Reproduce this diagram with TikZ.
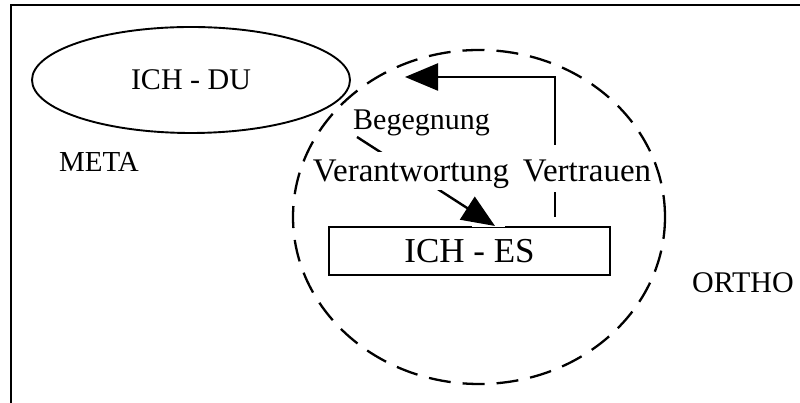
\documentclass[tikz,border=0pt]{standalone}
\usepackage{fontspec}
\setmainfont{Liberation Serif}
\usetikzlibrary{arrows.meta,shapes.geometric}
\begin{document}
\begin{tikzpicture}[x=1pt,y=1pt,
  lbl/.style={inner sep=0pt, anchor=base},
  cut/.style={anchor=base, fill=white, inner xsep=2pt, inner ysep=0pt},
  arr/.style={line width=2.4pt, -{Triangle[length=33pt,width=27pt]}},
  f29/.style={font=\fontsize{29}{34}\selectfont},
  f30/.style={font=\fontsize{30}{36}\selectfont},
  f33/.style={font=\fontsize{33}{40}\selectfont},
  f35/.style={font=\fontsize{35}{42}\selectfont},
]
\useasboundingbox (0,0) rectangle (800,403);
% frame
\draw[line width=2.4pt] (11,0) -- (11,398) -- (800,398);
% ICH - DU ellipse
\node[draw, ellipse, line width=1.9pt, inner sep=0pt, minimum width=318, minimum height=106, f30] (du) at (191,323) {ICH - DU};
% ICH - ES box
\node[draw, line width=1.5pt, inner sep=0pt, minimum width=281, minimum height=48, f35] (es) at (469.5,152) {ICH - ES};
% gap in the box's top edge where the arrow meets it
\draw[white, line width=2.5pt] ([xshift=2.5pt]es.north) -- ([xshift=35.5pt]es.north);
% plain labels
\node[lbl, f29] (meta) at (99,231) {META};
\node[lbl, f30] (orthol) at (743,110) {ORTHO};
\node[lbl, f30] (beg) at (421.5,273) {Begegnung};
% connectors
\coordinate (vstart) at (357,266);
\coordinate (vtip) at (495,177);
\draw[arr] (vstart) -- (vtip);
\coordinate (tbot) at (555,186);
\coordinate (ttip) at (405,326);
\draw[arr] (tbot) |- (ttip);
% labels that interrupt the connectors
\node[cut, f33, text height=30pt, text depth=8pt] (verant) at (411,221) {Verantwortung};
\node[cut, f33, text height=37pt, text depth=10pt] (vertr) at (587,221) {Vertrauen};
% dashed ORTHO circle
\node[draw, ellipse, line width=2.3pt, dash pattern=on 22pt off 12pt, inner sep=0pt, minimum width=372, minimum height=334] (circ) at (479,186) {};
\end{tikzpicture}
\end{document}
